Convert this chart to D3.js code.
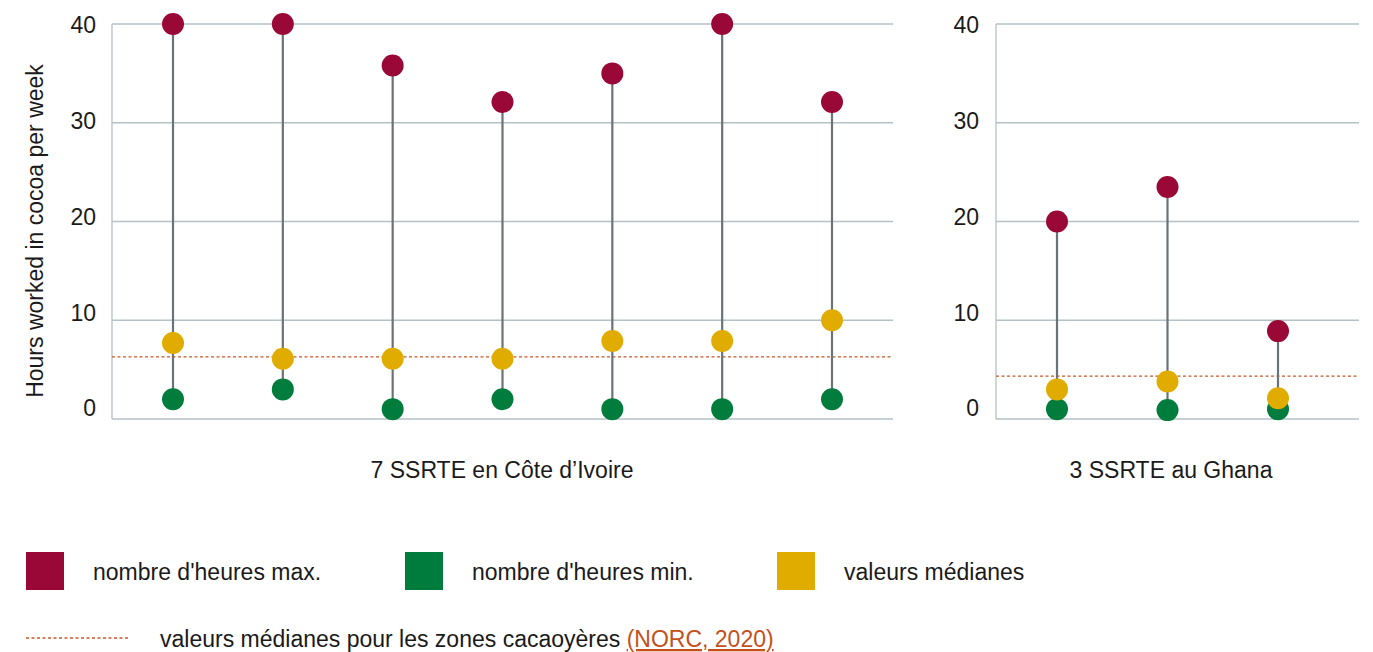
<!DOCTYPE html>
<html><head><meta charset="utf-8">
<script src="https://cdn.jsdelivr.net/npm/d3@7"></script>
<style>body{margin:0;background:#fff;} svg{display:block;font-family:"Liberation Sans",Arial,sans-serif;}</style>
</head><body><svg id="c" width="1373" height="652"></svg>
<script>
// Data
const ciCategories = ["CI1","CI2","CI3","CI4","CI5","CI6","CI7"];
const ciMax    = [40, 40, 35.8, 32.1, 35, 40, 32.1];
const ciMedian = [7.7, 6.1, 6.1, 6.1, 7.9, 7.9, 10];
const ciMin    = [2, 3, 1, 2, 1, 1, 2];
const ciRef = 6.3;
const ghCategories = ["GH1","GH2","GH3"];
const ghMax    = [20, 23.5, 8.9];
const ghMedian = [3, 3.8, 2.1];
const ghMin    = [1, 0.9, 1];
const ghRef = 4.35;
const yTicks = [0, 10, 20, 30, 40];
const panelTitles = ["7 SSRTE en Côte d\u2019Ivoire", "3 SSRTE au Ghana"];
const yTitle = "Hours worked in cocoa per week";
const legendLabels = ["nombre d'heures max.", "nombre d'heures min.", "valeurs médianes"];
const refLegend = "valeurs médianes pour les zones cacaoyères ";
const refSource = "(NORC, 2020)";

const FS = 23;
const C = {max:"#9a0838", min:"#007c3c", med:"#e0ac00", ref:"#c9582a", stem:"#6a7377", grid:"#b4c1c6", text:"#1a1a1a"};
const svg = d3.select("#c");
const y = d3.scaleLinear().domain([0,40]).range([419,24]);
const yLab = d3.scaleLinear().domain([0,40]).range([408,25]);

function panel(cats, mx, md, mn, ref, left, right, xScale, labelX, title, titleX){
  const g = svg.append("g");
  g.selectAll(".gl").data(yTicks).join("line")
    .attr("x1", left).attr("x2", right).attr("y1", d=>y(d)).attr("y2", d=>y(d))
    .attr("stroke", C.grid).attr("stroke-width", 1.3);
  g.append("line").attr("x1", left).attr("x2", left).attr("y1", y(40)).attr("y2", y(0))
    .attr("stroke", C.grid).attr("stroke-width", 1.3);
  g.selectAll(".tl").data(yTicks).join("text")
    .attr("x", labelX).attr("y", d=>yLab(d)).attr("dy","0.36em").attr("text-anchor","end")
    .attr("font-size", FS).attr("fill", C.text).text(d=>d);
  g.append("line").attr("x1", left).attr("x2", right).attr("y1", y(ref)).attr("y2", y(ref))
    .attr("stroke", C.ref).attr("stroke-width", 1.3).attr("stroke-dasharray","3,2.5");
  g.selectAll(".st").data(cats).join("line")
    .attr("x1", d=>xScale(d)).attr("x2", d=>xScale(d))
    .attr("y1", (d,i)=>y(mn[i])).attr("y2", (d,i)=>y(mx[i]))
    .attr("stroke", C.stem).attr("stroke-width", 2.2);
  const dots = (vals, col) => g.selectAll(null).data(cats).join("circle")
    .attr("cx", d=>xScale(d)).attr("cy", (d,i)=>y(vals[i])).attr("r", 11).attr("fill", col);
  dots(mn, C.min); dots(md, C.med); dots(mx, C.max);
  g.append("text").attr("x", titleX).attr("y", 478).attr("text-anchor","middle")
    .attr("font-size", FS).attr("fill", C.text).text(title);
}

const xCI = d3.scalePoint().domain(ciCategories).range([173, 832]);
const xGH = d3.scalePoint().domain(ghCategories).range([1057, 1278]);
panel(ciCategories, ciMax, ciMedian, ciMin, ciRef, 112, 893, xCI, 96, panelTitles[0], 502);
panel(ghCategories, ghMax, ghMedian, ghMin, ghRef, 996, 1359, xGH, 979, panelTitles[1], 1171);

svg.append("text").attr("transform","translate(43,231) rotate(-90)").attr("text-anchor","middle")
  .attr("font-size", FS).attr("fill", C.text).text(yTitle);

const legCols = [C.max, C.min, C.med];
const legX = [26, 405, 777];
legendLabels.forEach((t,i)=>{
  svg.append("rect").attr("x", legX[i]).attr("y", 552).attr("width", 38).attr("height", 38).attr("fill", legCols[i]);
  svg.append("text").attr("x", legX[i]+67).attr("y", 580).attr("font-size", FS).attr("fill", C.text).text(t);
});
svg.append("line").attr("x1", 26).attr("x2", 130).attr("y1", 638).attr("y2", 638)
  .attr("stroke", C.ref).attr("stroke-width", 1.3).attr("stroke-dasharray","3,2.5");
const rt = svg.append("text").attr("x", 160).attr("y", 647).attr("font-size", FS).attr("fill", C.text);
rt.append("tspan").text(refLegend);
rt.append("tspan").attr("fill", "#c4501c").attr("text-decoration","underline").text(refSource);
</script></body></html>
